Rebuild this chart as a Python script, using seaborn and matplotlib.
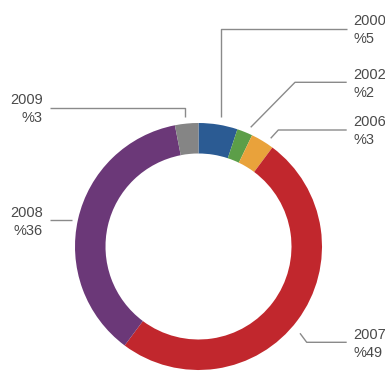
import matplotlib
matplotlib.use("Agg")
import matplotlib.pyplot as plt
import seaborn as sns

# Share of each year (percent), drawn clockwise from 12 o'clock
years = ["2000", "2002", "2006", "2007", "2008", "2009"]
shares = [5, 2, 3, 49, 36, 3]
colors = ["#2b5b93", "#5c9e48", "#e9a23b", "#c1272d", "#6b3878", "#858585"]

sns.set_theme(style="white")
plt.rcParams["font.family"] = ["Liberation Sans", "DejaVu Sans"]

W, H = 385, 372
fig = plt.figure(figsize=(W / 100, H / 100), dpi=100)
ax = fig.add_axes([0, 0, 1, 1])

# pixel-like coordinates (y measured upward)
cx, cy, r_out, ring = 198.5, H - 246.5, 123.5, 30.5

ax.pie(shares, colors=sns.color_palette(colors), startangle=90, counterclock=False,
       center=(cx, cy), radius=r_out,
       wedgeprops=dict(width=ring, linewidth=0))

ax.set_xlim(0, W)
ax.set_ylim(0, H)
ax.set_aspect("equal")
ax.axis("off")

def Y(v):
    return H - v

line_kw = dict(color="#8a8a8a", lw=1.0, solid_capstyle="butt")
txt_kw = dict(color="#4a4a4a", fontsize=10.5, va="center")

# leader lines (screen-style y values converted with Y)
leaders = {
    "2000": [(220.7, 116.7), (220.7, 29), (346.7, 29)],
    "2002": [(250.7, 127.3), (295, 82.3), (346.7, 82.3)],
    "2006": [(270.7, 138.3), (278.3, 130), (346.7, 130)],
    "2007": [(300, 333.3), (306.7, 342.3), (346.7, 342.3)],
    "2008": [(71.7, 220), (50, 220)],
    "2009": [(185, 116.7), (185, 108.3), (50, 108.3)],
}
for pts in leaders.values():
    ax.plot([p[0] for p in pts], [Y(p[1]) for p in pts], **line_kw)

# labels: year above, percentage below
label_pos = {
    "2000": (353, 21, "left"),
    "2002": (353, 75, "left"),
    "2006": (353, 122, "left"),
    "2007": (353, 335, "left"),
    "2008": (43, 213, "right"),
    "2009": (43, 100, "right"),
}
for yr, val in zip(years, shares):
    x, y, ha = label_pos[yr]
    ax.text(x, Y(y), yr, ha=ha, **txt_kw)
    ax.text(x, Y(y + 18), f"%{val}", ha=ha, **txt_kw)

fig.savefig("out.png", dpi=100, facecolor="white")
